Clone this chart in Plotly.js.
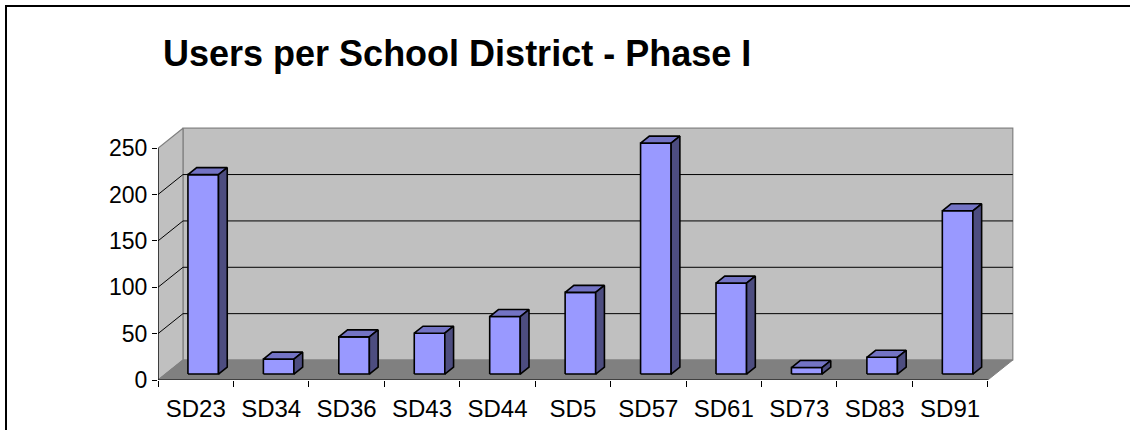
<!DOCTYPE html>
<html>
<head>
<meta charset="utf-8">
<script src="https://cdn.plot.ly/plotly-3.0.1.min.js"></script>
<style>
  html, body { margin: 0; padding: 0; background: #fff; overflow: hidden; }
  #wrap { position: relative; width: 1130px; height: 430px; overflow: hidden; }
  #chart { position: absolute; left: 0; top: 0; width: 1130px; height: 430px; }
  #frame { position: absolute; left: 5px; top: 5px; width: 1200px; height: 500px;
           border-top: 2px solid #000; border-left: 2px solid #000; pointer-events: none; }
</style>
</head>
<body>
<div id="wrap"><div id="chart"></div><div id="frame"></div></div>
<script>
// ---- data ----
const categories = ['SD23', 'SD34', 'SD36', 'SD43', 'SD44', 'SD5', 'SD57', 'SD61', 'SD73', 'SD83', 'SD91'];
const users = [215, 16, 40, 44, 62, 88, 249, 98, 7, 18, 176];
const yTicks = [0, 50, 100, 150, 200, 250];
const yMax = 250;
const chartTitle = 'Users per School District - Phase I';

// ---- pseudo-3D geometry (in axis units) ----
const n = categories.length;
const depthX = 0.3313;   // full depth shift along x (category units)
const depthY = 21.55;    // full depth shift along y (value units)
const barFront = 0.30, barBack = 0.65, barHalf = 0.2025;

const traces = [];
function poly(xs, ys, fill, line, lw) {
  return { x: xs, y: ys, mode: 'lines', fill: 'toself', fillcolor: fill,
           line: { color: line, width: lw }, hoverinfo: 'skip', showlegend: false };
}
// back wall
traces.push(poly([depthX, n + depthX, n + depthX, depthX, depthX],
                 [depthY, depthY, yMax + depthY, yMax + depthY, depthY], '#C0C0C0', '#808080', 1.2));
// left wall
traces.push(poly([0, depthX, depthX, 0, 0], [0, depthY, yMax + depthY, yMax, 0], '#C0C0C0', '#808080', 1.2));
// floor
traces.push(poly([0, n, n + depthX, depthX, 0], [0, 0, depthY, depthY, 0], '#808080', '#808080', 1));
// gridlines
const gx = [], gy = [];
yTicks.filter(v => v > 0 && v < yMax).forEach(v => {
  gx.push(0, depthX, n + depthX, null);
  gy.push(v, v + depthY, v + depthY, null);
});
traces.push({ x: gx, y: gy, mode: 'lines', line: { color: '#000', width: 1 }, hoverinfo: 'skip', showlegend: false });

// bars
const fx = [], fy = [], tx = [], ty = [], sx = [], sy = [];
const ox0 = barFront * depthX, oy0 = barFront * depthY;
const ox1 = barBack * depthX, oy1 = barBack * depthY;
users.forEach((v, i) => {
  const xl = i + 0.5 - barHalf + ox0, xr = i + 0.5 + barHalf + ox0;
  const yb = oy0, yt = v + oy0;
  const ddx = ox1 - ox0, ddy = oy1 - oy0;
  fx.push(xl, xr, xr, xl, xl, null); fy.push(yb, yb, yt, yt, yb, null);
  tx.push(xl, xr, xr + ddx, xl + ddx, xl, null); ty.push(yt, yt, yt + ddy, yt + ddy, yt, null);
  sx.push(xr, xr + ddx, xr + ddx, xr, xr, null); sy.push(yb, yb + ddy, yt + ddy, yt, yb, null);
});
traces.push(poly(fx, fy, '#9999FF', '#000', 1.6));
traces.push(poly(tx, ty, '#7373C4', '#000', 1.6));
traces.push(poly(sx, sy, '#4D4D80', '#000', 1.6));

// front axis lines
traces.push({ x: [0, 0, null, 0, n], y: [yMax, 0, null, 0, 0], mode: 'lines',
              line: { color: '#000', width: 1.2 }, hoverinfo: 'skip', showlegend: false });

const font = 'Liberation Sans, Arial, sans-serif';
const layout = {
  width: 1130, height: 430, autosize: false,
  margin: { l: 158, r: 112, t: 125, b: 50, pad: 0 },
  paper_bgcolor: 'rgba(0,0,0,0)', plot_bgcolor: 'rgba(0,0,0,0)',
  title: { text: chartTitle, xref: 'container', x: 163 / 1130, xanchor: 'left',
           yref: 'container', y: 1 - 53 / 430, yanchor: 'middle',
           font: { family: font, size: 36, color: '#000', weight: 'bold' } },
  xaxis: { range: [0, 11.4], fixedrange: true, showgrid: false, zeroline: false, showline: false,
           tickmode: 'array', tickvals: categories.map((c, i) => i + 0.5), ticktext: categories,
           ticks: '', ticklabelstandoff: 12, tickfont: { family: font, size: 24, color: '#000' },
           minor: { tickmode: 'array', tickvals: categories.map((c, i) => i).concat([n]),
                    ticks: 'outside', ticklen: 6, tickcolor: '#000', tickwidth: 1, showgrid: false } },
  yaxis: { range: [0, 275], fixedrange: true, showgrid: false, zeroline: false, showline: false,
           tickmode: 'array', tickvals: yTicks, ticks: 'outside', ticklen: 5, tickcolor: '#000',
           tickwidth: 1, tickfont: { family: font, size: 23, color: '#000' } },
  showlegend: false
};
Plotly.newPlot('chart', traces, layout, { staticPlot: true, displayModeBar: false });
</script>
</body>
</html>
